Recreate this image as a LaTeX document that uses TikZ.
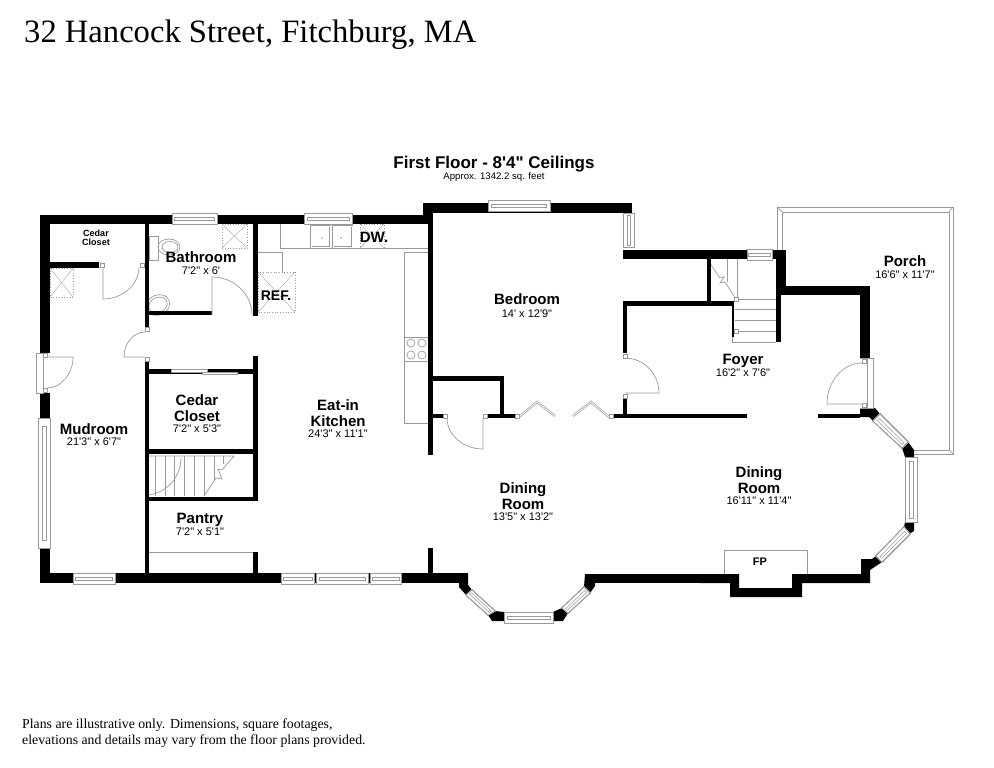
\documentclass[tikz,border=0pt]{standalone}
\usepackage{fontspec}
\setmainfont{Liberation Serif}
\newfontfamily\planfont{Liberation Sans}
\usetikzlibrary{calc}
\definecolor{fixture}{HTML}{9A9A9A}
% window: corners a,b at one end and c,d at the other
\newcommand{\pane}[4]{
  \draw[glass] #1 -- #2 -- #3 -- #4 -- cycle;
  \coordinate (pa) at ($#1!.38!#2$);
  \coordinate (pb) at ($#4!.38!#3$);
  \coordinate (pc) at ($#1!.68!#2$);
  \coordinate (pd) at ($#4!.68!#3$);
  \draw[glass,line width=.5pt] ($(pa)!.06!(pb)$) -- ($(pa)!.94!(pb)$) -- ($(pc)!.94!(pd)$) -- ($(pc)!.06!(pd)$) -- cycle;
}
% door swing: hinge, start of the arc, end of the leaf
\newcommand{\swing}[3]{
  \draw[door] #1 -- #3 .. controls ($#3+.55*#2-.55*#1$) and ($#2+.55*#3-.55*#1$) .. #2;
}
% appliance or shower box with a cross
\newcommand{\crossbox}[4]{
  \draw[appl] (#1,#2) rectangle (#3,#4);
  \draw[door,line width=.35pt] (#1,#2) -- (#3,#4) (#3,#2) -- (#1,#4);
}
\begin{document}
\begin{tikzpicture}[x=1pt,y=-1pt,
  glass/.style={draw=fixture,fill=white,line width=.8pt},
  door/.style={draw=fixture,line width=.7pt},
  appl/.style={draw=fixture,dotted,line width=.7pt},
  jamb/.style={draw=fixture,fill=white,line width=.5pt},
  room name/.style={font=\planfont\bfseries\fontsize{15}{15.5}\selectfont,align=center,inner sep=0pt},
  room size/.style={font=\planfont\fontsize{11}{12}\selectfont,inner sep=0pt,yshift=-1pt},
  tiny name/.style={font=\planfont\bfseries\fontsize{9}{9.5}\selectfont,align=center,inner sep=0pt}]
  \useasboundingbox (0,0) rectangle (994,768);
  % titles
  \node[anchor=west,inner sep=0pt,font=\fontsize{32.6}{33}\selectfont] (title) at (24,35) {32 Hancock Street, Fitchburg, MA};
  \node[inner sep=0pt,font=\planfont\bfseries\fontsize{17}{17}\selectfont] (floor) at (494,164) {First Floor - 8'4" Ceilings};
  \node[inner sep=0pt,font=\planfont\fontsize{9.6}{11}\selectfont] (area) at (494,177) {Approx. 1342.2 sq. feet};
  \node[anchor=north west,inner sep=0pt,align=left,font=\fontsize{13.8}{15.4}\selectfont] (note) at (22,719) {Plans are illustrative only. Dimensions, square footages,\\elevations and details may vary from the floor plans provided.};
  % porch
  \draw[door,line width=.9pt] (777,250) -- (777,207) -- (953,207) -- (953,454) -- (914,454);
  \draw[door] (782,250) -- (782,212) -- (949,212) -- (949,450) -- (914,450);
  \draw[door] (777,207) -- (782,212) (953,207) -- (949,212) (953,454) -- (949,450);
  % counters and fixtures
  \draw[door] (280,224) -- (280,248) -- (428,248);
  \draw[door] (404,252) rectangle (428,423);
  \draw[door] (404,337) -- (428,337) (404,361) -- (428,361);
  \foreach \cx/\cy in {411/343,422/343,411/355,422/355}
    \draw[door] (\cx,\cy) circle (4);
  \draw[door,double=white,double distance=.6pt] (311,226) rectangle (330,247);
  \draw[door,double=white,double distance=.6pt] (333,226) rectangle (352,247);
  \fill[fixture] (322,238) circle (.8) (341,238) circle (.8);
  \draw[door] (258,252) -- (282,252) -- (282,272);
  \crossbox{258}{272}{295}{312}
  \crossbox{360}{224}{384}{248}
  \crossbox{222}{224}{247}{248}
  \crossbox{50}{268}{73}{297}
  \draw[door] (149,552) -- (253,552);
  \draw[door] (420,423) -- (428,423);
  \draw[door] (724,574) -- (724,550) -- (807,550) -- (807,574);
  % bathroom fixtures
  \draw[door] (149,236) rectangle (158,260);
  \draw[door] (169,247) ellipse (11 and 8);
  \draw[door] (170,247) ellipse (8 and 5.5);
  \draw[door,rotate around={25:(158,305)}] (158,305) ellipse (12 and 10);
  \draw[door,rotate around={25:(158,305)}] (158,305) ellipse (9.5 and 7.5);
  % stairs to the left
  \draw[door] (145,456) -- (234,456) -- (222,470) -- (218,469) -- (222,479) -- (216,478) -- (204,496);
  \foreach \sx/\sy in {155/496,165/496,174/496,184/496,194/496,204/496,214/481,223/464}
    \draw[door] (\sx,456) -- (\sx,\sy);
  \draw[door] (181,458) .. controls (181,478) and (165,495) .. (145,495);
  % stairs to the right
  \foreach \sy in {299,309,320,331,342}
    \draw[door] (735,\sy) -- (776,\sy);
  \draw[door] (732,337) -- (732,342) -- (735,342);
  \draw[door] (737,259) -- (737,299);
  \draw[door] (707,259) -- (720,278) -- (724,277) -- (720,283) -- (725,282) -- (736,299);
  \draw[door] (727,259) -- (727,282);
  % walls, as left/top/right/bottom
  \foreach \wa/\wb/\wc/\wd in {40/215/433/224, 40/215/50/353, 40/393/50/418, 40/548/50/583, 40/573/468/583, 423/203/632/213, 423/203/433/224,
     428/203/433/455, 428/548/433/578, 145/224/149/327, 145/362/149/573, 253/224/258/316, 253/356/258/501,
     253/552/258/573, 50/262/99/268, 149/311/212/315, 149/369/253/374, 149/449/253/454, 145/497/258/501,
     433/376/504/381, 500/376/504/418, 433/414/443/418, 488/414/515/418, 613/414/747/418, 818/414/860/418,
     623/301/734/306, 623/301/627/353, 623/397/627/414, 707/259/711/303, 732/306/734/337,
     623/203/632/213, 623/250/786/259, 776/250/786/295, 776/295/781/342, 776/286/870/295, 860/286/870/358,
     585/574/739/583}
    \fill (\wa,\wb) rectangle (\wc,\wd);
  \fill (468,574) -- (468,585) -- (472,590) -- (466,595) -- (459,587) -- (459,574) -- cycle;
  \fill (495,611) -- (504,612) -- (504,621) -- (492,621) -- (488,615) -- cycle;
  \fill (553,612) -- (562,608) -- (568,613) -- (563,621) -- (553,621) -- cycle;
  \fill (585,574) -- (595,574) -- (595,586) -- (590,593) -- (584,587) -- cycle;
  \fill (700,574) -- (739,574) -- (739,588) -- (792,588) -- (792,574) -- (861,574) -- (861,559) -- (872,559)
    -- (876,556) -- (882,562) -- (870,570) -- (870,583) -- (802,583) -- (802,597) -- (730,597) -- (730,583) -- (700,583) -- cycle;
  \fill (905,522) -- (914,522) -- (914,531) -- (909,534) -- (904,527) -- cycle;
  \fill (902,448) -- (908,442) -- (914,450) -- (914,457) -- (905,457) -- cycle;
  \fill (860,408) -- (875,408) -- (880,414) -- (873,421) -- (869,417) -- (860,417) -- cycle;
  % windows
  \foreach \pa/\pb/\pc in {172/213/217, 304/213/352, 488/200/550, 73/573/115, 281/573/314, 316/573/368, 370/573/401, 504/612/553}
    \pane{(\pa,\pb)}{(\pa,\pb+11)}{(\pc,\pb+11)}{(\pc,\pb)}
  \pane{(38,418)}{(50,418)}{(50,548)}{(38,548)}
  \pane{(623,213)}{(634,213)}{(634,247)}{(623,247)}
  \pane{(747,249)}{(747,260)}{(772,260)}{(772,249)}
  \pane{(905,457)}{(917,457)}{(917,522)}{(905,522)}
  \pane{(466,595)}{(472,590)}{(495,611)}{(488,615)}
  \pane{(562,608)}{(568,613)}{(590,593)}{(584,587)}
  \pane{(880,414)}{(873,421)}{(902,448)}{(908,442)}
  \pane{(876,556)}{(882,562)}{(910,534)}{(904,527)}
  % sliding doors and door frames
  \draw[glass] (171,369) rectangle (207,372);
  \draw[glass] (202,372) rectangle (237,374.5);
  \draw[glass] (36,353) rectangle (43,393);
  \draw[glass] (867,358) rectangle (873,408);
  \draw[door] (860,358) -- (867,358) (860,408) -- (867,408);
  % folding doors
  \draw[door,double=white,double distance=.8pt] (519,417) -- (537,402) -- (555,416);
  \draw[door,double=white,double distance=.8pt] (573,416) -- (591,402) -- (609,417);
  % door swings
  \swing{(103,267)}{(139,267)}{(103,299)}
  \swing{(212,315)}{(252,315)}{(212,277)}
  \swing{(145,357)}{(145,332)}{(124,357)}
  \swing{(47,357)}{(47,388)}{(73,357)}
  \swing{(483,418)}{(447,418)}{(483,449)}
  \swing{(625,393)}{(625,358)}{(659,393)}
  \swing{(862,404)}{(862,363)}{(827,404)}
  \foreach \ja/\jb in {102/265,142/265,147/329,147/359,45/355,45/390,445/416,485/416,517/416,611/416,625/356,625/396,864/361,864/405,736/299,736/331}
    \draw[jamb] (\ja-2,\jb-2) rectangle (\ja+2,\jb+2);
  % room labels
  \node[tiny name] (closeta) at (96,238) {Cedar\\Closet};
  \node[room name] (bath) at (201,257) {Bathroom};
  \node[room size] (bathsize) at (201,270) {7'2" x 6'};
  \node[room name] (mud) at (94,429) {Mudroom};
  \node[room size] (mudsize) at (94,441) {21'3" x 6'7"};
  \node[room name] (closetb) at (197,408) {Cedar\\Closet};
  \node[room size] (closetbsize) at (197,428) {7'2" x 5'3"};
  \node[room name] (pantry) at (200,520) {Pantry};
  \node[room size] (pantrysize) at (200,531) {7'2" x 5'1"};
  \node[room name] (kitchen) at (338,413) {Eat-in\\Kitchen};
  \node[room size] (kitchensize) at (338,433) {24'3" x 11'1"};
  \node[room name] (bed) at (527,299) {Bedroom};
  \node[room size] (bedsize) at (527,313) {14' x 12'9"};
  \node[room name] (foyer) at (743,361) {Foyer};
  \node[room size] (foyersize) at (743,372) {16'2" x 7'6"};
  \node[room name] (porch) at (905,261) {Porch};
  \node[room size] (porchsize) at (905,274) {16'6" x 11'7"};
  \node[room name] (dinea) at (523,496) {Dining\\Room};
  \node[room size] (dineasize) at (523,516) {13'5" x 13'2"};
  \node[room name] (dineb) at (759,480) {Dining\\Room};
  \node[room size] (dinebsize) at (759,500) {16'11" x 11'4"};
  \node[inner sep=0pt,font=\planfont\bfseries\fontsize{15}{15}\selectfont] (dw) at (374,237) {DW.};
  \node[inner sep=0pt,font=\planfont\bfseries\fontsize{14}{14}\selectfont] (ref) at (276,296) {REF.};
  \node[inner sep=0pt,font=\planfont\bfseries\fontsize{11}{11}\selectfont] (fp) at (760,562) {FP};
\end{tikzpicture}
\end{document}
